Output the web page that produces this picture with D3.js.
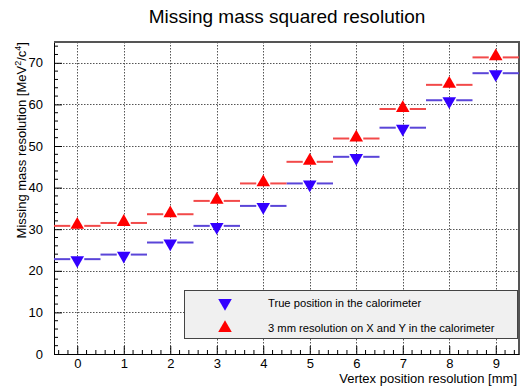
<!DOCTYPE html>
<html>
<head>
<meta charset="utf-8">
<script src="https://cdn.jsdelivr.net/npm/d3@7"></script>
<style>
	body { margin: 0; background: #fff; }
	text { font-family: "Liberation Sans", Arial, sans-serif; fill: #000; }
</style>
</head>
<body>
<svg id="chart" width="521" height="390"></svg>
<script>
let vertexRes		= [0, 1, 2, 3, 4, 5, 6, 7, 8, 9];
let truePosition	= [22.8, 23.9, 26.8, 30.8, 35.6, 41.0, 47.4, 54.4, 61.0, 67.5];
let smearedPosition	= [30.8, 31.5, 33.6, 36.8, 41.0, 46.2, 51.8, 58.9, 64.7, 71.3];
let yTicks			= [0, 10, 20, 30, 40, 50, 60, 70];
let legendLabels	= ['True position in the calorimeter', '3 mm resolution on X and Y in the calorimeter'];

let svg		= d3.select('#chart');
let pLeft	= 54, pRight = 519, pTop = 42, pBottom = 354;

let x	= d3.scaleLinear().domain([-0.5, 9.5]).range([pLeft, pRight]);
let y	= d3.scaleLinear().domain([0, 75]).range([pBottom, pTop]);

// grid
let grid = svg.append('g').attr('stroke', '#555').attr('stroke-width', 1).attr('stroke-dasharray', '1.5,1.5');
grid.selectAll('.gx').data(vertexRes).join('line').attr('x1', d => Math.round(x(d)) + .5).attr('x2', d => Math.round(x(d)) + .5).attr('y1', pTop).attr('y2', pBottom);
grid.selectAll('.gy').data(yTicks.filter(d => d > 0)).join('line').attr('y1', d => Math.round(y(d)) + .5).attr('y2', d => Math.round(y(d)) + .5).attr('x1', pLeft).attr('x2', pRight);

// axes with inside ticks
let xAxis = svg.append('g').attr('transform', 'translate(0,' + pBottom + ')')
	.call(d3.axisBottom(x).tickValues(vertexRes).tickSize(-8).tickPadding(5).tickFormat(d3.format('d')));
let xMinor = d3.range(-0.4, 9.5, 0.2).filter(d => Math.abs(d - Math.round(d)) > 0.01);
xAxis.selectAll('.minor').data(xMinor).join('line').attr('x1', d => x(d)).attr('x2', d => x(d)).attr('y1', 0).attr('y2', -4).attr('stroke', '#000');

let yAxis = svg.append('g').attr('transform', 'translate(' + pLeft + ',0)')
	.call(d3.axisLeft(y).tickValues(yTicks).tickSize(-8).tickPadding(11).tickFormat(d3.format('d')));
let yMinor = d3.range(2, 75, 2).filter(d => d % 10 !== 0);
yAxis.selectAll('.minor').data(yMinor).join('line').attr('y1', d => y(d)).attr('y2', d => y(d)).attr('x1', 0).attr('x2', 4).attr('stroke', '#000');

[xAxis, yAxis].forEach(a => {
	a.select('.domain').attr('stroke', '#000');
	a.selectAll('.tick line').attr('stroke', '#000');
	a.selectAll('text').style('font-size', '13px').attr('fill', '#000');
});

// frame top/right
svg.append('path').attr('d', 'M' + pLeft + ',' + pTop + 'H' + pRight + 'V' + pBottom).attr('fill', 'none').attr('stroke', '#555').attr('stroke-width', 2);

// series
let tri = d3.symbol().type(d3.symbolTriangle).size(80);
function drawSeries(values, color, lineColor, flip) {
	let g = svg.append('g');
	values.forEach((v, i) => {
		let cx = x(vertexRes[i]), cy = y(v), half = x(0.5) - x(0);
		g.append('line').attr('x1', cx - half).attr('x2', cx - 7).attr('y1', cy).attr('y2', cy).attr('stroke', lineColor).attr('stroke-width', 2);
		g.append('line').attr('x1', cx + 7).attr('x2', cx + half).attr('y1', cy).attr('y2', cy).attr('stroke', lineColor).attr('stroke-width', 2);
		g.append('path').attr('d', tri).attr('fill', color)
			.attr('transform', 'translate(' + cx + ',' + (cy + (flip ? 1 : -1)) + ')' + (flip ? ' rotate(180)' : ''));
	});
}
drawSeries(truePosition, '#3300ff', '#5a45d8', true);
drawSeries(smearedPosition, '#ff0000', '#f24a4a', false);

// legend
let legend = svg.append('g');
legend.append('rect').attr('x', 184.5).attr('y', 290.5).attr('width', 333).attr('height', 48).attr('fill', '#f0f0f0').attr('stroke', '#444').attr('stroke-width', 1);
legendLabels.forEach((label, i) => {
	let ly = 303 + i * 25;
	legend.append('path').attr('d', tri).attr('fill', i === 0 ? '#3300ff' : '#ff0000')
		.attr('transform', 'translate(225,' + ly + ')' + (i === 0 ? ' rotate(180)' : ''));
	legend.append('text').attr('x', 268).attr('y', ly + 4).style('font-size', '11.2px').text(label);
});

// titles
svg.append('text').attr('x', 287).attr('y', 23).attr('text-anchor', 'middle').style('font-size', '19px').text('Missing mass squared resolution');
svg.append('text').attr('x', 517).attr('y', 383).attr('text-anchor', 'end').style('font-size', '13px').text('Vertex position resolution [mm]');
svg.append('text').attr('transform', 'translate(26,' + pTop + ') rotate(-90)').attr('text-anchor', 'end').style('font-size', '13px')
	.html('Missing mass resolution [MeV<tspan dy="-5" font-size="9px">2</tspan><tspan dy="5">/c</tspan><tspan dy="-5" font-size="9px">4</tspan><tspan dy="5">]</tspan>');
</script>
</body>
</html>
